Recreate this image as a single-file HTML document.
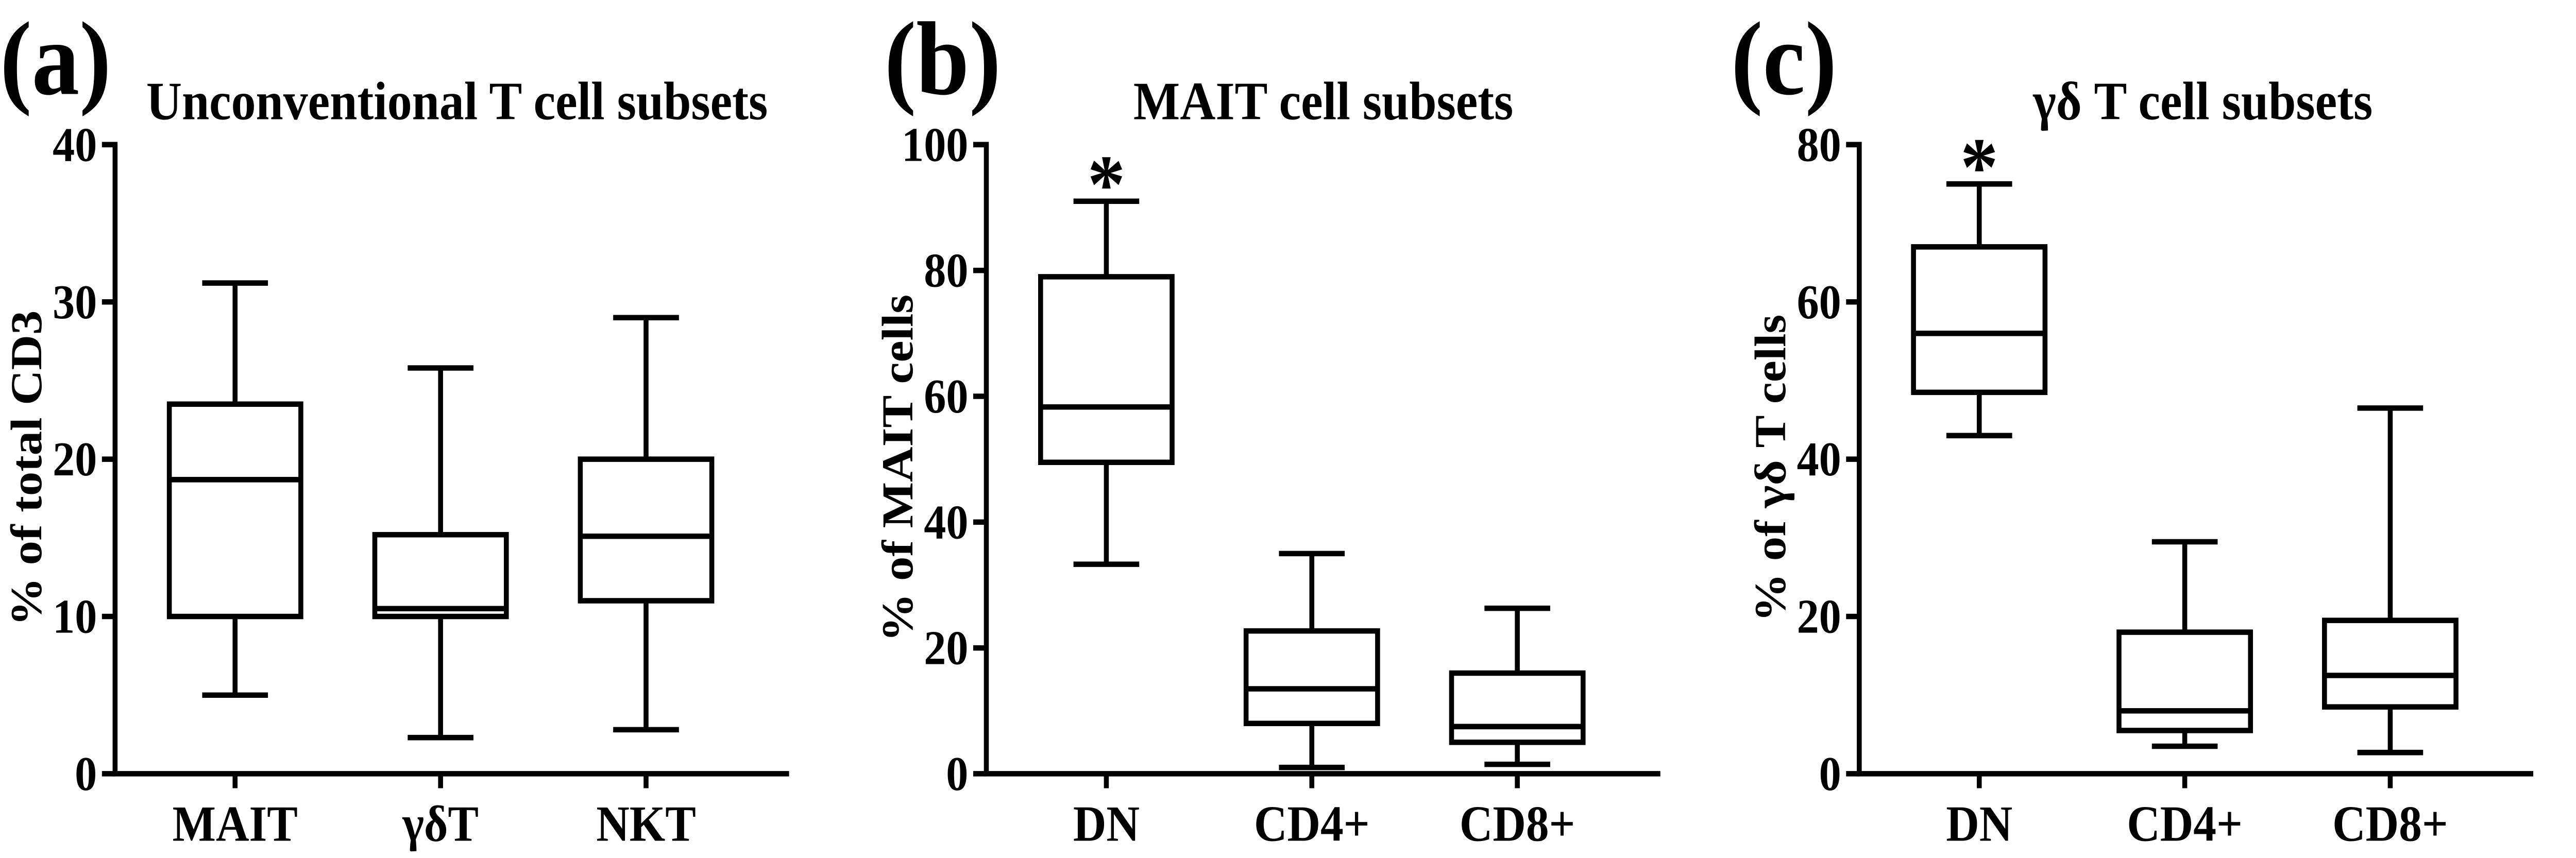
<!DOCTYPE html>
<html><head><meta charset="utf-8"><style>
html,body{margin:0;padding:0;background:#fff;overflow:hidden;width:100%;height:100%;}
svg{display:block;width:100vw;height:100vh;}
text{font-family:"Liberation Serif",serif;font-weight:bold;fill:#000;}
</style></head>
<body>
<svg id="fig" viewBox="0 0 1567 474.6" preserveAspectRatio="none" xmlns="http://www.w3.org/2000/svg"></svg>
<script>
// Panel (a)
const catsA = ["MAIT", "γδT", "NKT"];
const minA = [5, 2.3, 2.8];
const q1A = [10, 10, 11];
const medA = [18.7, 10.5, 15.1];
const q3A = [23.5, 15.2, 20];
const maxA = [31.2, 25.8, 29];
const ticksA = [0, 10, 20, 30, 40];
// Panel (b)
const catsB = ["DN", "CD4+", "CD8+"];
const minB = [33.3, 1, 1.5];
const q1B = [49.5, 8, 5];
const medB = [58.3, 13.5, 7.5];
const q3B = [79, 22.7, 16];
const maxB = [91, 35, 26.3];
const ticksB = [0, 20, 40, 60, 80, 100];
// Panel (c)
const catsC = ["DN", "CD4+", "CD8+"];
const minC = [43, 3.5, 2.7];
const q1C = [48.5, 5.5, 8.5];
const medC = [56, 8, 12.5];
const q3C = [67, 18, 19.5];
const maxC = [75, 29.5, 46.5];
const ticksC = [0, 20, 40, 60, 80];

const NS = "http://www.w3.org/2000/svg";
const svg = document.getElementById("fig");
function mk(tag, attrs, parent, txt){
  const e = document.createElementNS(NS, tag);
  for (const k in attrs) e.setAttribute(k, attrs[k]);
  if (txt !== undefined) e.textContent = txt;
  (parent || svg).appendChild(e);
  return e;
}
const SW = 3;
function panel(o){
  const g = mk("g", {});
  
  
  const y0 = 428, yTop = 80;
  const ymax = o.ticks[o.ticks.length - 1];
  const ys = v => y0 - (v / ymax) * (y0 - yTop);
  const xs = i => o.x0 + 73 + i * 125;
  const lab = mk("text", {x: o.labX, y: 52, "font-size": 58}, g, o.letter);
  
  
  const t = mk("text", {x: o.titleX, y: 66, "font-size": 30, "text-anchor": "middle"}, g, o.title);
  
  
  const yt = mk("text", {x: 0, y: 0, "font-size": 27, "text-anchor": "middle", transform: `translate(${o.x0 - 45},${(y0 + yTop) / 2 + 5}) rotate(-90)`}, g, o.ytitle);
  
  
  const ya = mk("line", {x1: o.x0, y1: yTop - 1.5, x2: o.x0, y2: y0, stroke: "#000", "stroke-width": SW}, g);
  
  
  const xa = mk("line", {x1: o.x0 - 1.5, y1: y0, x2: o.x0 + 410, y2: y0, stroke: "#000", "stroke-width": SW}, g);
  
  
  o.ticks.forEach(v => {
    const tk = mk("line", {x1: o.x0 - 8, y1: ys(v), x2: o.x0, y2: ys(v), stroke: "#000", "stroke-width": SW}, g);
    
    
    const tl = mk("text", {x: o.x0 - 11, y: ys(v) + 9, "font-size": 27, "text-anchor": "end"}, g, String(v));
    
    
  });
  o.cats.forEach((c, i) => {
    const x = xs(i);
    const tk = mk("line", {x1: x, y1: y0, x2: x, y2: y0 + 8, stroke: "#000", "stroke-width": SW}, g);
    
    
    const xl = mk("text", {x: x, y: y0 + 37, "font-size": 28, "text-anchor": "middle"}, g, c);
    
    
    const bg = mk("g", {stroke: "#000", "stroke-width": SW, fill: "none"}, g);
    
    
    const hw = 40, cw = 20;
    mk("line", {x1: x, y1: ys(o.max[i]), x2: x, y2: ys(o.q3[i])}, bg);
    mk("line", {x1: x, y1: ys(o.q1[i]), x2: x, y2: ys(o.min[i])}, bg);
    mk("line", {x1: x - cw, y1: ys(o.max[i]), x2: x + cw, y2: ys(o.max[i])}, bg);
    mk("line", {x1: x - cw, y1: ys(o.min[i]), x2: x + cw, y2: ys(o.min[i])}, bg);
    mk("rect", {x: x - hw, y: ys(o.q3[i]), width: 2 * hw, height: ys(o.q1[i]) - ys(o.q3[i]), fill: "#fff"}, bg);
    mk("line", {x1: x - hw, y1: ys(o.med[i]), x2: x + hw, y2: ys(o.med[i])}, bg);
  });
  if (o.star){
    const s = mk("text", {x: xs(0), y: ys(o.max[0]) + 6, "font-size": 46, "text-anchor": "middle", "font-family": "DejaVu Sans"}, g, "*");
    
    
  }
}
panel({id: "a", letter: "(a)", labX: 0, titleX: 278, title: "Unconventional T cell subsets", ytitle: "% of total CD3", x0: 70, cats: catsA, min: minA, q1: q1A, med: medA, q3: q3A, max: maxA, ticks: ticksA});
panel({id: "b", letter: "(b)", labX: 538, titleX: 805, title: "MAIT cell subsets", ytitle: "% of MAIT cells", x0: 600, cats: catsB, min: minB, q1: q1B, med: medB, q3: q3B, max: maxB, ticks: ticksB, star: true});
panel({id: "c", letter: "(c)", labX: 1053, titleX: 1340, title: "γδ T cell subsets", ytitle: "% of γδ T cells", x0: 1131, cats: catsC, min: minC, q1: q1C, med: medC, q3: q3C, max: maxC, ticks: ticksC, star: true});
</script>
</body></html>
